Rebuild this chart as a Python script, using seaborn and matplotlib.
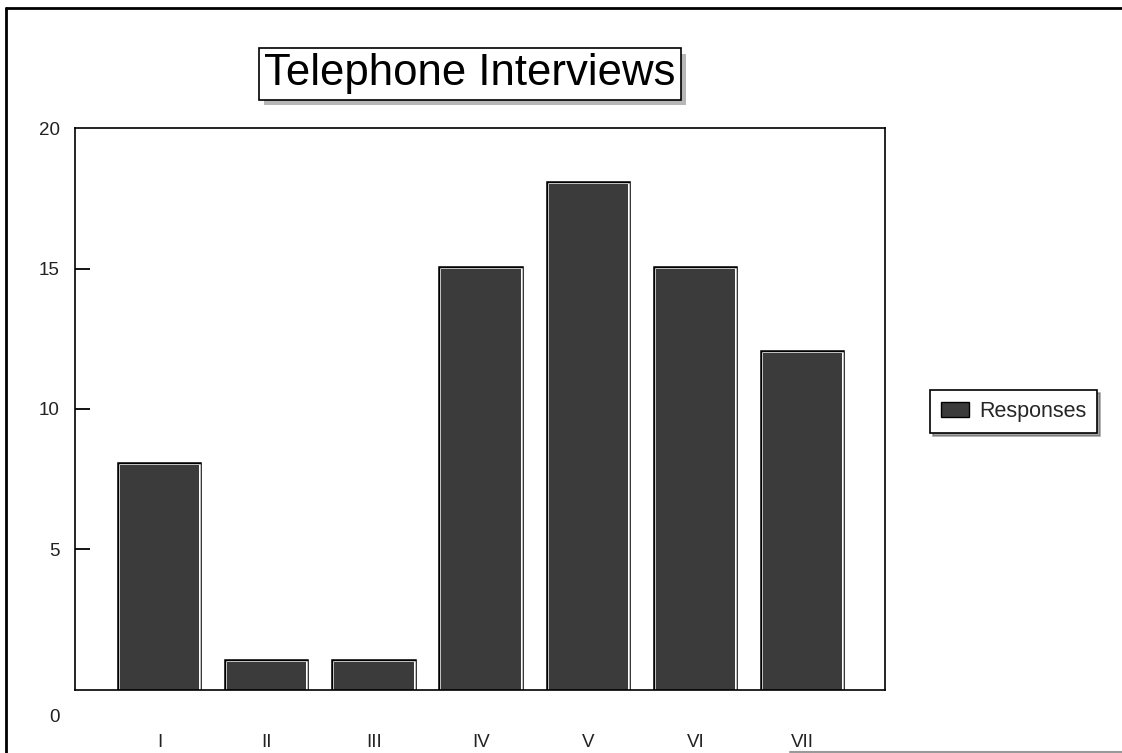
import matplotlib
matplotlib.use("Agg")
import matplotlib.pyplot as plt
import matplotlib.patheffects as pe
import matplotlib.transforms as mtransforms
from matplotlib.lines import Line2D
import seaborn as sns
import pandas as pd

# Survey responses per interview group
categories = ["I", "II", "III", "IV", "V", "VI", "VII"]
responses = [8, 1, 1, 15, 18, 15, 12]
series_name = "Responses"
title_text = "Telephone Interviews"
y_ticks = [0, 5, 10, 15, 20]

df = pd.DataFrame({"group": categories, "count": responses, "series": series_name})

sns.set_theme(style="white")
plt.rcParams["font.family"] = ["Liberation Sans", "DejaVu Sans"]

fig = plt.figure(figsize=(11.22, 7.53), dpi=100)
ax = fig.add_axes([0.0668, 0.0837, 0.722, 0.7463])

bar_color = "#3b3b3b"
sns.barplot(data=df, x="group", y="count", hue="series", palette=[bar_color],
            width=0.74, dodge=False, saturation=1, linewidth=0,
            legend=False, ax=ax)

# Framed bars: black outer rim with a thin white inner rim
for p in ax.patches:
    p.set_path_effects([pe.Stroke(linewidth=4, foreground="black"),
                        pe.Stroke(linewidth=1.8, foreground="white"),
                        pe.Normal()])

ax.set_xlim(-0.79, 6.77)
ax.set_ylim(0, 20)
ax.set_yticks(y_ticks)
ax.set_yticklabels([str(v) for v in y_ticks])
ax.set_xlabel("")
ax.set_ylabel("")

for s in ax.spines.values():
    s.set_visible(True)
    s.set_color("black")
    s.set_linewidth(1.2)

ax.tick_params(axis="y", direction="in", length=11, width=1.3, color="black",
               left=True, labelsize=13.5, labelcolor="#222222", pad=11)
ax.tick_params(axis="x", length=0, labelsize=13.5, labelcolor="#222222", pad=32)

ticklines = ax.yaxis.get_major_ticks()
for t, v in zip(ticklines, y_ticks):
    if v in (0, 20):
        t.tick1line.set_visible(False)
    if v == 0:
        t.label1.set_transform(t.label1.get_transform() +
                               mtransforms.ScaledTranslation(0, -0.26, fig.dpi_scale_trans))

# Title in a shadowed box
title = fig.text(0.4186, 0.902, title_text, ha="center", va="center",
                 fontsize=31.5, color="black",
                 bbox=dict(boxstyle="square,pad=0.12", fc="white", ec="black", lw=1.2))
title.get_bbox_patch().set_path_effects([
    pe.SimplePatchShadow(offset=(4, -4), shadow_rgbFace="#b0b0b0", alpha=0.9),
    pe.Normal()])

# Legend
handle = plt.Rectangle((0, 0), 1, 1, fc=bar_color, ec="black", lw=1)
leg = fig.legend([handle], [series_name], loc="center", bbox_to_anchor=(0.9034, 0.4535),
                 frameon=True, fancybox=False, shadow=True, fontsize=15.5,
                 handlelength=1.3, handleheight=0.75, handletextpad=0.45,
                 borderpad=0.5, borderaxespad=0)
leg.get_frame().set_edgecolor("black")
leg.get_frame().set_linewidth(1.2)

# Page border
fig.add_artist(Line2D([6 / 1122, 1.0], [1 - 8 / 753, 1 - 8 / 753],
                      transform=fig.transFigure, color="black", lw=2))
fig.add_artist(Line2D([6 / 1122, 6 / 1122], [0, 1 - 8 / 753],
                      transform=fig.transFigure, color="black", lw=2))
fig.add_artist(Line2D([790 / 1122, 1.0], [1.5 / 753, 1.5 / 753],
                      transform=fig.transFigure, color="#999999", lw=1.5))

fig.savefig("out.png", dpi=100)
